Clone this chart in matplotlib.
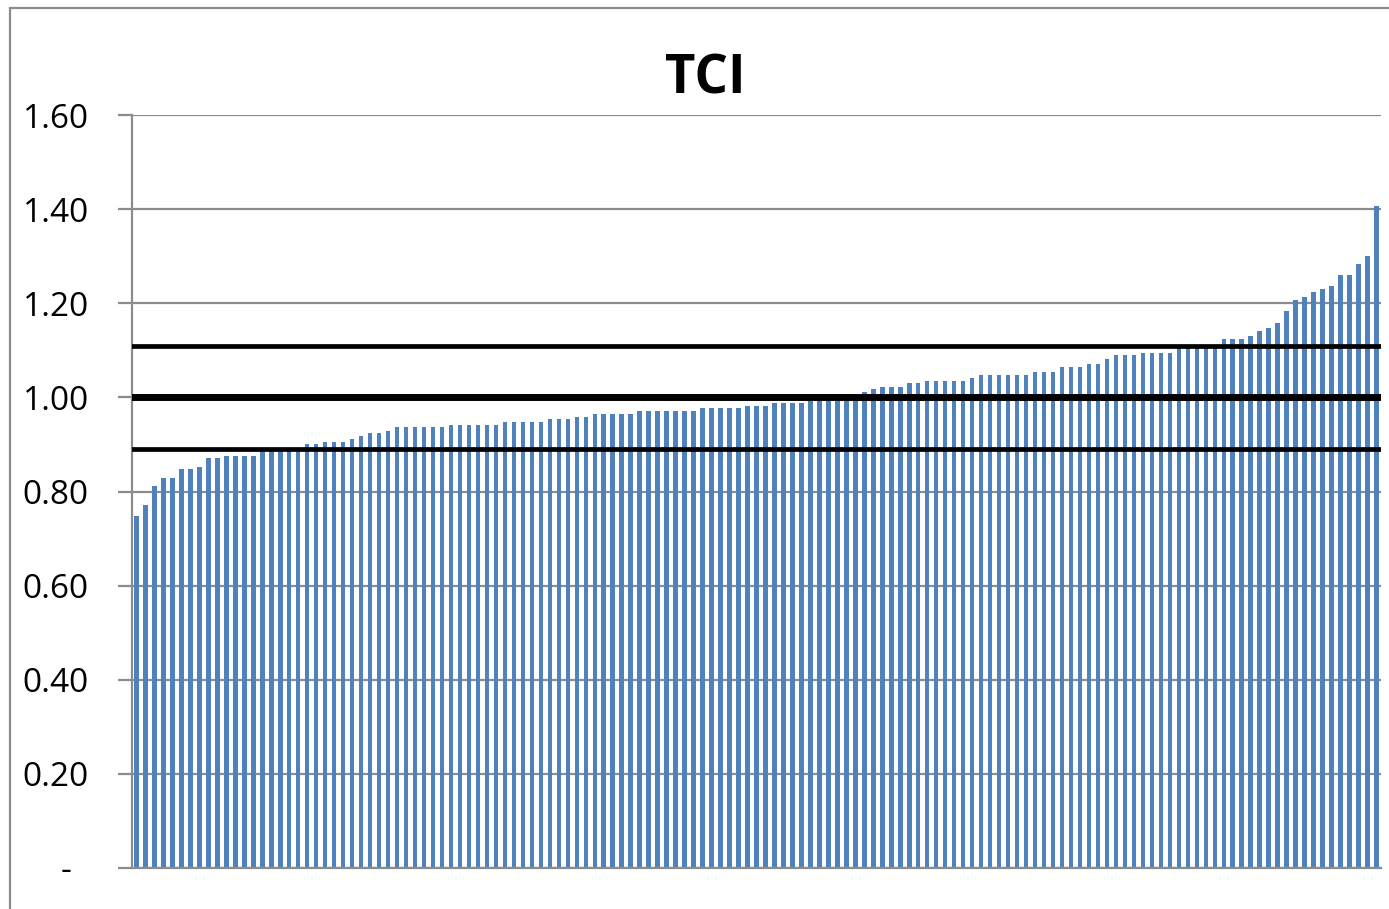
import matplotlib.pyplot as plt
from matplotlib.patches import Rectangle

# TCI values, sorted ascending
tci = [
    0.748, 0.771, 0.812, 0.829, 0.829, 0.847, 0.847, 0.853, 0.871, 0.871,
    0.876, 0.876, 0.876, 0.876, 0.885, 0.885, 0.887, 0.888, 0.888, 0.900,
    0.900, 0.906, 0.906, 0.906, 0.912, 0.918, 0.924, 0.924, 0.929,
    0.936, 0.936, 0.936, 0.936, 0.936, 0.936,
    0.941, 0.941, 0.941, 0.941, 0.941, 0.941,
    0.947, 0.947, 0.947, 0.947, 0.947,
    0.953, 0.953, 0.953, 0.959, 0.959,
    0.965, 0.965, 0.965, 0.965, 0.965,
    0.970, 0.970, 0.970, 0.970, 0.970, 0.970, 0.970,
    0.977, 0.977, 0.977, 0.977, 0.977,
    0.982, 0.982, 0.982, 0.989, 0.989, 0.989, 0.989,
    1.000, 1.000, 1.000, 1.000, 1.000, 1.000,
    1.012, 1.018, 1.023, 1.023, 1.023, 1.030, 1.030,
    1.035, 1.035, 1.035, 1.035, 1.035, 1.041,
    1.048, 1.048, 1.048, 1.048, 1.048, 1.048,
    1.053, 1.053, 1.053, 1.065, 1.065, 1.065, 1.071, 1.071, 1.082,
    1.089, 1.089, 1.089, 1.094, 1.094, 1.094, 1.094,
    1.110, 1.110, 1.110, 1.110, 1.110,
    1.124, 1.124, 1.124, 1.130, 1.142, 1.148, 1.159, 1.183, 1.207,
    1.213, 1.224, 1.230, 1.236, 1.259, 1.259, 1.283, 1.300, 1.407,
]

# reference lines
ref_lines = [0.89, 1.00, 1.11]
ref_widths = [3.4, 5.0, 3.4]

yticks = [0, 0.2, 0.4, 0.6, 0.8, 1.0, 1.2, 1.4, 1.6]
ytick_labels = ["-  ", "0.20", "0.40", "0.60", "0.80", "1.00", "1.20", "1.40", "1.60"]

plt.rcParams['font.family'] = ['Open Sans', 'DejaVu Sans']

fig = plt.figure(figsize=(13.89, 9.09), dpi=100)
ax = fig.add_axes([132 / 1389, 1 - 868 / 909, (1381 - 132) / 1389, (868 - 115) / 909])

# outer chart border
fig.patches.append(Rectangle((10 / 1389, -0.05), 1.2, 1 - 8 / 909 + 0.05,
                             transform=fig.transFigure, fill=False,
                             edgecolor="#8c8c8c", linewidth=1.6))

ax.set_axisbelow(True)
ax.grid(axis="y", color="#8c8c8c", linewidth=1.6)
ax.bar(range(len(tci)), tci, width=0.5, color="#4F81BD", zorder=2)

for val, lw in zip(ref_lines, ref_widths):
    ax.axhline(val, color="black", linewidth=lw, zorder=3)

ax.set_xlim(-0.5, len(tci) - 0.5)
ax.set_ylim(0, 1.6)
ax.set_yticks(yticks)
ax.set_yticklabels(ytick_labels, fontsize=24)
ax.set_xticks([])
ax.tick_params(axis="y", length=10, width=1.6, color="#8c8c8c", pad=21)

for side in ["top", "right"]:
    ax.spines[side].set_visible(False)
for side in ["left", "bottom"]:
    ax.spines[side].set_color("#8c8c8c")
    ax.spines[side].set_linewidth(1.6)

fig.text(705 / 1389, 1 - 80 / 909, "TCI", ha="center", va="center",
         fontsize=38, fontweight="bold")

fig.savefig("out.png", dpi=100)
